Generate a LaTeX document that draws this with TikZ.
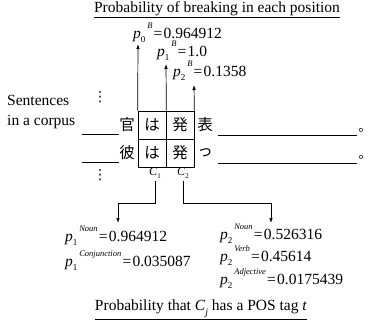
\documentclass[tikz,border=0pt]{standalone}
\usepackage{fontspec}
\setmainfont{Liberation Serif}
\newfontfamily\jp{Noto Sans CJK JP}
\newfontfamily\dv{DejaVu Sans}
\usetikzlibrary{arrows.meta}
\newcommand{\pv}[3]{\textit{p}\raisebox{-0.3em}{\fontsize{9}{9}\selectfont #1}\hspace{0.12em}\raisebox{0.6em}{\fontsize{8.5}{8.5}\selectfont\itshape #2}\hspace{0.08em}=\hspace{0.08em}#3}
\newcommand{\cl}[1]{\textit{C}\raisebox{-0.3em}{\fontsize{7}{7}\selectfont #1}}
\begin{document}
\begin{tikzpicture}[x=1pt,y=-1pt,
  every node/.style={font=\fontsize{15.5}{18}\selectfont, inner sep=0pt},
  cell/.style={draw, line width=0.7pt, minimum width=28pt, minimum height=28pt},
  clab/.style={font=\fontsize{12}{14}\selectfont},
  dots/.style={font=\fontsize{14}{14}\selectfont\dv},
  stop/.style={font=\fontsize{12.5}{14}\selectfont\jp, anchor=west},
  arr/.style={line width=0.7pt, -{Latex[length=5pt,width=3.5pt]}},
  ln/.style={line width=0.7pt}]
\useasboundingbox (0,0) rectangle (371,329);
\node (t1) at (217,9.5) {\underline{Probability of breaking in each position}};
\node[anchor=west] (pb0) at (133,33) {\pv{0}{B}{0.964912}};
\node[anchor=west] (pb1) at (157,51) {\pv{1}{B}{1.0}};
\node[anchor=west] (pb2) at (173,71) {\pv{2}{B}{0.1358}};
\node[anchor=west, align=left, font=\fontsize{15.5}{19.5}\selectfont] (s) at (7,112) {Sentences\\in a corpus};
\node[dots] (d1) at (100,97) {⋮};
\node[dots] (d2) at (100,175) {⋮};
\node[cell] (c11) at (152,125) {\jp は};
\node[cell] (c12) at (180,125) {\jp 発};
\node[cell] (c21) at (152,153) {\jp は};
\node[cell] (c22) at (180,153) {\jp 発};
\node (k1) at (127,125) {\jp 官};
\node (h1) at (205,125) {\jp 表};
\node (k2) at (127,153) {\jp 彼};
\node (h2) at (205,153) {\jp っ};
\node[stop] (e1) at (358.3,130) {。};
\node[stop] (e2) at (358.3,157) {。};
\draw[ln] (82,134.5) -- (119,134.5);
\draw[ln] (82,162) -- (119,162);
\draw[ln] (218,135) -- (357,135);
\draw[ln] (218,163) -- (357,163);
\coordinate (a0) at (138,44);
\coordinate (a1) at (166,64);
\coordinate (a2) at (194,85);
\draw[arr] (c11.north west) -- (a0);
\draw[arr] (c11.north east) -- (a1);
\draw[arr] (c12.north east) -- (a2);
\node[clab] (C1) at (155,173) {\cl{1}};
\node[clab] (C2) at (183,173) {\cl{2}};
\coordinate (m1) at (118,203);
\coordinate (b1) at (118,223);
\coordinate (m2) at (271,203);
\coordinate (b2) at (271,223);
\draw[arr] ([yshift=-2pt]C1.south) |- (m1) -- (b1);
\draw[arr] ([yshift=-2pt]C2.south) |- (m2) -- (b2);
\node[anchor=west] (q1) at (65,236) {\pv{1}{Noun}{0.964912}};
\node[anchor=west] (q2) at (65,261) {\pv{1}{Conjunction}{0.035087}};
\node[anchor=west] (r1) at (220,234) {\pv{2}{Noun}{0.526316}};
\node[anchor=west] (r2) at (220,256) {\pv{2}{Verb}{0.45614}};
\node[anchor=west] (r3) at (220,279) {\pv{2}{Adjective}{0.0175439}};
\node (t2) at (201,310) {\underline{Probability that \textit{C}\raisebox{-0.3em}{\fontsize{10}{10}\selectfont\itshape j} has a POS tag \textit{t}}};
\end{tikzpicture}
\end{document}
